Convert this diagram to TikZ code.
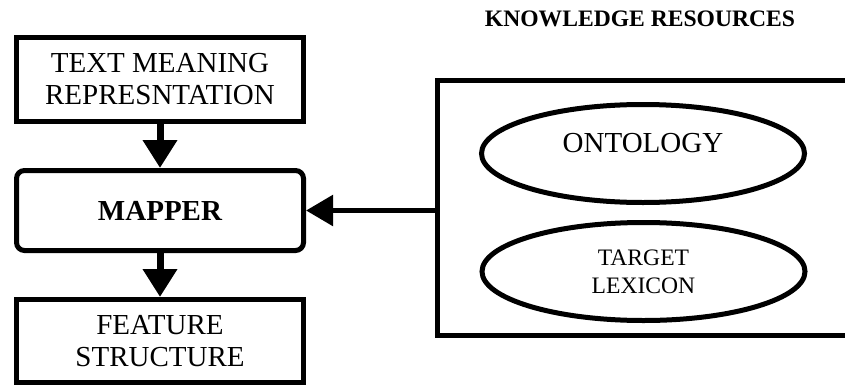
\documentclass[tikz,border=0pt]{standalone}
\usepackage{fontspec}
\setmainfont{Liberation Serif}
\usetikzlibrary{arrows.meta,shapes.geometric}

\begin{document}
\begin{tikzpicture}[x=1pt,y=1pt,
  box/.style={draw,line width=5pt,minimum width=287pt,align=center,font=\fontsize{29}{32}\selectfont},
  oval/.style={draw,ellipse,line width=5pt,minimum width=323pt,minimum height=98pt,align=center},
  down/.style={line width=7pt,-{Triangle[length=28pt,width=33pt]}},
  feed/.style={line width=5.5pt,-{Triangle[length=27pt,width=30pt]}}]
\path[use as bounding box,clip] (0,0) rectangle (845,-388);
% pipeline
\node[box,minimum height=84pt] (tmr) at (160,-79.5) {TEXT MEANING\\REPRESNTATION};
\node[box,minimum height=80pt,rounded corners=8pt,font=\fontsize{29}{32}\selectfont\bfseries] (mapper) at (160,-210.5) {MAPPER};
\node[box,minimum height=83pt] (fs) at (160,-341) {FEATURE\\STRUCTURE};
\draw[down] (tmr) -- (mapper);
\draw[down] (mapper) -- (fs);
% knowledge resources
\node[font=\fontsize{23.6}{26}\selectfont\bfseries,anchor=base] (title) at (640,-27) {KNOWLEDGE RESOURCES};
\node[draw,line width=5pt,minimum width=462.5pt,minimum height=255pt] (res) at (668.75,-208) {};
\node[oval,font=\fontsize{29}{32}\selectfont,text depth=21pt] (onto) at (643,-153.5) {ONTOLOGY};
\node[oval,font=\fontsize{23.6}{28}\selectfont] (lex) at (643.5,-271.5) {TARGET\\LEXICON};
\draw[feed] (res.west |- mapper.east) -- (mapper.east);
\end{tikzpicture}
\end{document}
